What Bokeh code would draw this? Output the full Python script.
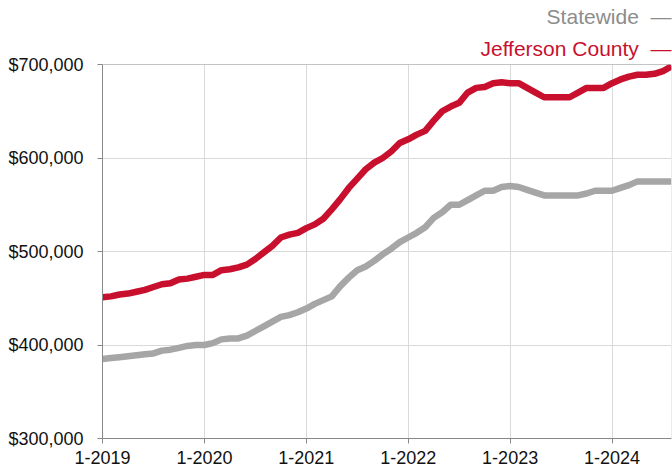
from bokeh.plotting import figure
from bokeh.models import Range1d, FixedTicker, NumeralTickFormatter, Span, Title
from bokeh.embed import file_html
from bokeh.resources import INLINE

# Monthly median values, Jan 2019 .. Aug 2024 (month index 0..67)
jefferson = [
    451000, 452000, 454000, 455000, 457000, 459000, 462000, 465000, 466000, 470000, 471000, 473000,
    475000, 475000, 480000, 481000, 483000, 486000, 492000, 499000, 506000, 515000, 518000, 520000,
    525000, 529000, 535000, 545000, 556000, 568000, 578000, 588000, 595000, 600000, 607000, 616000,
    620000, 625000, 629000, 640000, 650000, 655000, 659000, 670000, 675000, 676000, 680000, 681000,
    680000, 680000, 675000, 670000, 665000, 665000, 665000, 665000, 670000, 675000, 675000, 675000,
    680000, 684000, 687000, 689000, 689000, 690000, 693000, 698000,
]
statewide = [
    385000, 386000, 387000, 388000, 389000, 390000, 391000, 394000, 395000, 397000, 399000, 400000,
    400000, 402000, 406000, 407000, 407000, 410000, 415000, 420000, 425000, 430000, 432000, 435000,
    439000, 444000, 448000, 452000, 463000, 472000, 480000, 484000, 490000, 497000, 503000, 510000,
    515000, 520000, 526000, 536000, 542000, 550000, 550000, 555000, 560000, 565000, 565000, 569000,
    570000, 569000, 566000, 563000, 560000, 560000, 560000, 560000, 560000, 562000, 565000, 565000,
    565000, 568000, 571000, 575000, 575000, 575000, 575000, 575000,
]
months = list(range(len(jefferson)))
x_ticks = [0, 12, 24, 36, 48, 60]
x_tick_labels = ["1-2019", "1-2020", "1-2021", "1-2022", "1-2023", "1-2024"]
y_ticks = [300000, 400000, 500000, 600000, 700000]
series_names = ["Statewide", "Jefferson County"]

RED = "#c8102e"
GRAY = "#a6a6a6"
LEGEND_GRAY = "#8c8c8c"
FONT = "Liberation Sans"

p = figure(width=672, height=466,
           x_range=Range1d(0, months[-1]), y_range=Range1d(y_ticks[0], y_ticks[-1]),
           output_backend="svg", toolbar_location=None,
           min_border_left=102, min_border_right=1, min_border_top=64, min_border_bottom=20)
p.outline_line_color = None
p.background_fill_color = "white"
p.border_fill_color = "white"

# legend entries as right-aligned titles above the plot (later added = higher)
for name, color, standoff in ((series_names[1], RED, 9), (series_names[0], LEGEND_GRAY, 5)):
    p.add_layout(Title(text=name + "\u00a0\u00a0\u2014", align="right", text_font=FONT,
                       text_font_size="21px", text_font_style="normal", text_color=color,
                       standoff=standoff, offset=0), "above")

for ax in (p.xaxis, p.yaxis):
    ax.axis_line_color = "#888888"
    ax.major_tick_line_color = "#888888"
    ax.major_tick_out = 5
    ax.major_tick_in = 0
    ax.minor_tick_line_color = None
    ax.major_label_text_font = FONT
    ax.major_label_text_font_size = "18px"
    ax.major_label_text_color = "#111111"

p.yaxis.ticker = FixedTicker(ticks=y_ticks)
p.yaxis.formatter = NumeralTickFormatter(format="$0,0")
p.yaxis.major_label_standoff = 14

p.xaxis.ticker = FixedTicker(ticks=x_ticks)
p.xaxis.major_label_overrides = {t: l for t, l in zip(x_ticks, x_tick_labels)}
p.xaxis.major_label_standoff = 7

p.xgrid.grid_line_color = "#d9d9d9"
p.ygrid.grid_line_color = "#d9d9d9"

p.add_layout(Span(location=y_ticks[-1], dimension="width", line_color="#888888", line_width=1))
p.add_layout(Span(location=months[-1], dimension="height", line_color="#d9d9d9", line_width=1))

p.line(months, statewide, line_color=GRAY, line_width=6.5, line_join="round")
p.line(months, jefferson, line_color=RED, line_width=6.5, line_join="round")

open("out.html", "w").write(file_html(p, INLINE))
